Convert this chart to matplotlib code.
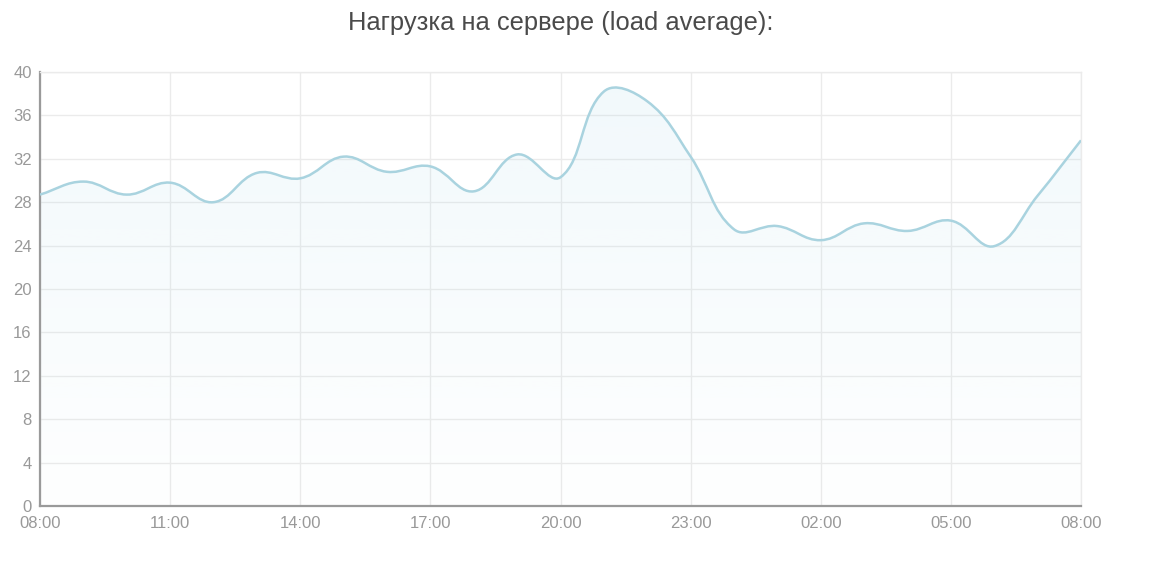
import numpy as np
import matplotlib
matplotlib.use("Agg")
import matplotlib.pyplot as plt
from matplotlib.path import Path
from matplotlib.patches import PathPatch

# ---- data ----
hours = list(range(25))  # hourly points from 08:00 to 08:00 next day
load_avg = [28.7, 29.9, 28.7, 29.8, 28.0, 30.7, 30.2, 32.2, 30.8, 31.3,
            29.0, 32.4, 30.3, 38.2, 37.3, 32.2, 25.5, 25.8, 24.5, 26.05,
            25.35, 26.3, 23.95, 28.6, 33.7]
x_ticks = [0, 3, 6, 9, 12, 15, 18, 21, 24]
x_tick_labels = ["08:00", "11:00", "14:00", "17:00", "20:00",
                 "23:00", "02:00", "05:00", "08:00"]
y_ticks = list(range(0, 41, 4))
title = "Нагрузка на сервере (load average):"

LINE = "#a9d3df"
plt.rcParams['font.family'] = ['Liberation Sans', 'DejaVu Sans']

fig = plt.figure(figsize=(11.52, 5.67), dpi=100)
ax = fig.add_axes([40 / 1152, (567 - 506) / 567, (1081 - 40) / 1152, (506 - 72) / 567])
ax.set_xlim(0, 24)
ax.set_ylim(0, 40)

# Chart.js-like bezier smoothing (tension 0.4), computed in pixel space
sx = (1081 - 40) / 24.0
sy = (506 - 72) / 40.0
P = np.column_stack([np.array(hours, float) * sx, np.array(load_avg) * sy])
n = len(P)
t = 0.4
cp_prev = P.copy()
cp_next = P.copy()
for i in range(n):
    p0 = P[max(i - 1, 0)]
    p1 = P[i]
    p2 = P[min(i + 1, n - 1)]
    d01 = np.hypot(*(p1 - p0))
    d12 = np.hypot(*(p2 - p1))
    tot = d01 + d12
    s01 = d01 / tot if tot else 0
    s12 = d12 / tot if tot else 0
    cp_prev[i] = p1 - t * s01 * (p2 - p0)
    cp_next[i] = p1 + t * s12 * (p2 - p0)
verts = [P[0]]
codes = [Path.MOVETO]
for i in range(n - 1):
    verts += [cp_next[i], cp_prev[i + 1], P[i + 1]]
    codes += [Path.CURVE4] * 3
verts = np.array(verts)
verts[:, 0] /= sx
verts[:, 1] /= sy

line_path = Path(verts, codes)
fill_verts = np.vstack([verts, [[24, 0], [0, 0], verts[0]]])
fill_codes = codes + [Path.LINETO, Path.LINETO, Path.CLOSEPOLY]
fill_path = Path(fill_verts, fill_codes)

# gradient fill
grad = np.linspace(1, 0, 256)
rgba = np.zeros((256, 1, 4))
rgba[:, 0, 0] = 0xa9 / 255
rgba[:, 0, 1] = 0xd8 / 255
rgba[:, 0, 2] = 0xea / 255
rgba[:, 0, 3] = 0.01 + 0.15 * grad
im = ax.imshow(rgba, extent=[0, 24, 0, 40], aspect='auto', origin='upper', zorder=1)
clip = PathPatch(fill_path, transform=ax.transData, facecolor='none', edgecolor='none')
ax.add_patch(clip)
im.set_clip_path(clip)

ax.add_patch(PathPatch(line_path, facecolor='none', edgecolor=LINE, lw=1.8, zorder=3))

ax.set_xticks(x_ticks)
ax.set_xticklabels(x_tick_labels)
ax.set_yticks(y_ticks)
ax.grid(True, color="#ebebeb", lw=1, zorder=0)
ax.set_axisbelow(True)
for s in ["top", "right"]:
    ax.spines[s].set_color("#ebebeb")
    ax.spines[s].set_linewidth(1)
for s in ["left", "bottom"]:
    ax.spines[s].set_color("#9a9a9a")
    ax.spines[s].set_linewidth(1.6)
ax.tick_params(axis='both', length=0, colors="#999999", labelsize=12)
ax.tick_params(axis='x', pad=7)
ax.tick_params(axis='y', pad=6)

fig.text(561 / 1152, 1 - 23 / 567, title, ha='center', va='center',
         fontsize=18.4, color="#4a4a4a")

fig.savefig("out.png", dpi=100, facecolor="white")
